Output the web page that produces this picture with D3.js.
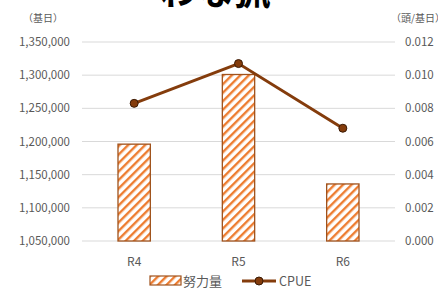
<!DOCTYPE html>
<html>
<head>
<meta charset="utf-8">
<script src="https://cdn.jsdelivr.net/npm/d3@7"></script>
<style>
  body { margin: 0; background: #fff; }
  text { font-family: "Noto Sans CJK JP", "Noto Sans", sans-serif; }
</style>
</head>
<body>
<script>
var width = 438, height = 289;

var years = ["R4", "R5", "R6"];
var effort = [1196000, 1301000, 1136000];
var cpue = [0.0083, 0.0107, 0.0068];
var leftTicks = [1050000, 1100000, 1150000, 1200000, 1250000, 1300000, 1350000];
var rightTicks = [0, 0.002, 0.004, 0.006, 0.008, 0.010, 0.012];

var m = { left: 82, right: 43, top: 42, bottom: 48 };

var svg = d3.select("body").append("svg")
  .attr("width", width)
  .attr("height", height);

var defs = svg.append("defs");
var pat = defs.append("pattern")
  .attr("id", "hatch")
  .attr("patternUnits", "userSpaceOnUse")
  .attr("width", 6)
  .attr("height", 6)
  .attr("patternTransform", "rotate(45)");
pat.append("rect").attr("width", 6).attr("height", 6).attr("fill", "#fff");
pat.append("rect").attr("width", 2.4).attr("height", 6).attr("fill", "#ed7d31");

var x = d3.scaleBand()
  .domain(years)
  .range([m.left, width - m.right])
  .paddingInner(0.69)
  .paddingOuter(0.345);

var yL = d3.scaleLinear()
  .domain([1050000, 1350000])
  .range([height - m.bottom, m.top]);

var yR = d3.scaleLinear()
  .domain([0, 0.012])
  .range([height - m.bottom, m.top]);

// grid
svg.append("g")
  .selectAll("line")
  .data(leftTicks)
  .enter().append("line")
  .attr("x1", m.left).attr("x2", width - m.right)
  .attr("y1", function(d) { return yL(d); })
  .attr("y2", function(d) { return yL(d); })
  .attr("stroke", "#d9d9d9")
  .attr("stroke-width", 1);

var fmt = d3.format(",");
svg.append("g")
  .selectAll("text")
  .data(leftTicks)
  .enter().append("text")
  .attr("x", 70)
  .attr("y", function(d) { return yL(d); })
  .attr("dy", "0.35em")
  .attr("text-anchor", "end")
  .attr("font-size", 11.5)
  .attr("fill", "#595959")
  .text(function(d) { return fmt(d); });

svg.append("g")
  .selectAll("text")
  .data(rightTicks)
  .enter().append("text")
  .attr("x", 405)
  .attr("y", function(d) { return yR(d); })
  .attr("dy", "0.35em")
  .attr("font-size", 11.5)
  .attr("fill", "#595959")
  .text(function(d) { return d3.format(".3f")(d); });

// bars
svg.append("g")
  .selectAll("rect")
  .data(effort)
  .enter().append("rect")
  .attr("x", function(d, i) { return x(years[i]); })
  .attr("width", x.bandwidth())
  .attr("y", function(d) { return yL(d); })
  .attr("height", function(d) { return yL(1050000) - yL(d); })
  .attr("fill", "url(#hatch)")
  .attr("stroke", "#a0521c")
  .attr("stroke-width", 1.3);

// line
var line = d3.line()
  .x(function(d, i) { return x(years[i]) + x.bandwidth() / 2; })
  .y(function(d) { return yR(d); });

svg.append("path")
  .datum(cpue)
  .attr("d", line)
  .attr("fill", "none")
  .attr("stroke", "#843c0c")
  .attr("stroke-width", 3);

svg.append("g")
  .selectAll("circle")
  .data(cpue)
  .enter().append("circle")
  .attr("cx", function(d, i) { return x(years[i]) + x.bandwidth() / 2; })
  .attr("cy", function(d) { return yR(d); })
  .attr("r", 4)
  .attr("fill", "#843c0c")
  .attr("stroke", "#3a1a05")
  .attr("stroke-width", 1);

// category labels
svg.append("g")
  .selectAll("text")
  .data(years)
  .enter().append("text")
  .attr("x", function(d) { return x(d) + x.bandwidth() / 2; })
  .attr("y", 266)
  .attr("text-anchor", "middle")
  .attr("font-size", 12)
  .attr("fill", "#595959")
  .text(function(d) { return d; });

// axis titles
svg.append("text")
  .attr("x", 23).attr("y", 22)
  .attr("font-size", 10)
  .attr("fill", "#595959")
  .text("（基日）");
svg.append("text")
  .attr("x", 391).attr("y", 22)
  .attr("font-size", 10)
  .attr("fill", "#595959")
  .text("（頭/基日）");

// title (cut off at top)
svg.append("text")
  .attr("x", 215).attr("y", 5)
  .attr("text-anchor", "middle")
  .attr("font-size", 37)
  .attr("font-weight", "bold")
  .attr("fill", "#000")
  .text("わな猟");

// legend
var lg = svg.append("g");
lg.append("rect")
  .attr("x", 150).attr("y", 276)
  .attr("width", 31).attr("height", 9)
  .attr("fill", "url(#hatch)")
  .attr("stroke", "#a0521c")
  .attr("stroke-width", 1.2);
lg.append("text")
  .attr("x", 183).attr("y", 286)
  .attr("font-size", 13)
  .attr("fill", "#595959")
  .text("努力量");
lg.append("line")
  .attr("x1", 242).attr("x2", 276)
  .attr("y1", 281).attr("y2", 281)
  .attr("stroke", "#843c0c")
  .attr("stroke-width", 3);
lg.append("circle")
  .attr("cx", 259).attr("cy", 281).attr("r", 4)
  .attr("fill", "#843c0c")
  .attr("stroke", "#3a1a05")
  .attr("stroke-width", 1);
lg.append("text")
  .attr("x", 279).attr("y", 286)
  .attr("font-size", 12.5)
  .attr("fill", "#595959")
  .text("CPUE");
</script>
</body>
</html>
